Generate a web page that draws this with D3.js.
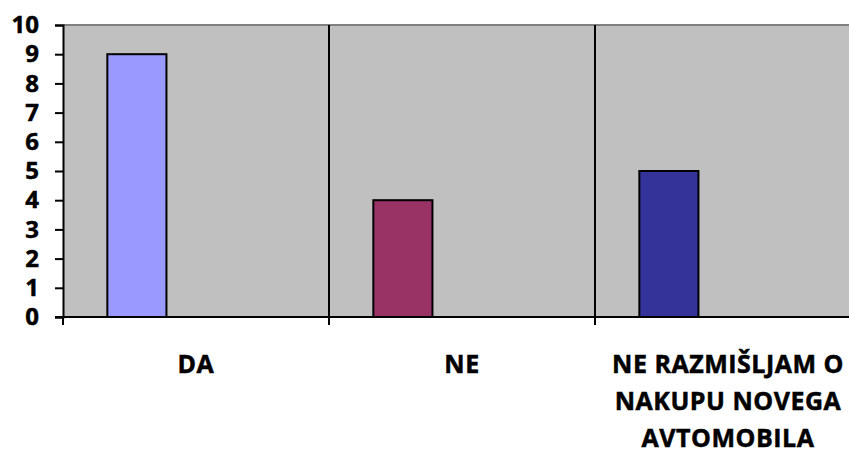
<!DOCTYPE html>
<html>
<head>
<meta charset="utf-8">
<script src="https://cdn.jsdelivr.net/npm/d3@7"></script>
<style>
  html, body { margin: 0; padding: 0; background: #ffffff; }
  svg { display: block; }
  text { font-family: "Open Sans", Lato, sans-serif; font-weight: bold; fill: #000; stroke: #000; stroke-width: 0.5px; }
</style>
</head>
<body>
<svg id="chart" width="849" height="450"></svg>
<script>
// Survey answers and counts
const categories = ["DA", "NE", "NE RAZMIŠLJAM O NAKUPU NOVEGA AVTOMOBILA"];
const values = [9, 4, 5];
const barColors = ["#9999FF", "#993366", "#333399"];
const yTicks = [0, 1, 2, 3, 4, 5, 6, 7, 8, 9, 10];

const svg = d3.select("#chart");

const plot = { left: 63, top: 25, bottom: 317, catWidth: 266 };

const x = d3.scaleBand()
  .domain(categories)
  .range([plot.left, plot.left + plot.catWidth * categories.length])
  .paddingInner(0)
  .paddingOuter(0);

const y = d3.scaleLinear().domain([0, 10]).range([plot.bottom, plot.top]);

// Plot background
svg.append("rect")
  .attr("x", plot.left)
  .attr("y", plot.top)
  .attr("width", x.range()[1] - plot.left)
  .attr("height", plot.bottom - plot.top)
  .attr("fill", "#C0C0C0");

// Top border of the plot area
svg.append("line")
  .attr("x1", plot.left).attr("x2", x.range()[1])
  .attr("y1", plot.top).attr("y2", plot.top)
  .attr("stroke", "#808080").attr("stroke-width", 2);

// Category dividers
svg.selectAll("line.divider")
  .data(categories.slice(1))
  .join("line")
  .attr("class", "divider")
  .attr("x1", d => x(d)).attr("x2", d => x(d))
  .attr("y1", plot.top).attr("y2", plot.bottom)
  .attr("stroke", "#000").attr("stroke-width", 2);

// Bars: one slot of a three-slot cluster, gap width 150%
const slot = x.bandwidth() / 4.5;
svg.selectAll("rect.bar")
  .data(values)
  .join("rect")
  .attr("class", "bar")
  .attr("x", (d, i) => x(categories[i]) + slot * 0.75)
  .attr("width", slot)
  .attr("y", d => y(d))
  .attr("height", d => y(0) - y(d))
  .attr("fill", (d, i) => barColors[i])
  .attr("stroke", "#000")
  .attr("stroke-width", 2);

// Y axis
const yAxis = svg.append("g")
  .attr("transform", `translate(${plot.left},0)`)
  .call(d3.axisLeft(y).tickValues(yTicks).tickSize(8).tickPadding(16).tickFormat(d3.format("d")));
yAxis.select(".domain").attr("stroke", "#000").attr("stroke-width", 2);
yAxis.selectAll(".tick line").attr("stroke", "#000").attr("stroke-width", 2);
yAxis.selectAll(".tick text")
  .style("font-family", "'Open Sans', Lato, sans-serif")
  .style("font-weight", "bold")
  .style("font-size", "24px")
  .attr("fill", "#000");

// X axis baseline with ticks at category boundaries
const boundaries = categories.map(c => x(c)).concat([x.range()[1]]);
svg.append("line")
  .attr("x1", plot.left - 8).attr("x2", x.range()[1])
  .attr("y1", y(0)).attr("y2", y(0))
  .attr("stroke", "#000").attr("stroke-width", 2);
svg.selectAll("line.xtick")
  .data(boundaries)
  .join("line")
  .attr("class", "xtick")
  .attr("x1", d => d).attr("x2", d => d)
  .attr("y1", y(0)).attr("y2", y(0) + 8)
  .attr("stroke", "#000").attr("stroke-width", 2);

// Category labels, wrapped within the category width
const labels = svg.selectAll("text.cat")
  .data(categories)
  .join("text")
  .attr("class", "cat")
  .attr("text-anchor", "middle")
  .style("font-size", "25px")
  .style("letter-spacing", "0.5px")
  .attr("x", d => x(d) + x.bandwidth() / 2)
  .attr("y", 373);

const lineHeight = 37;
labels.each(function(d) {
  const t = d3.select(this);
  const words = d.split(" ");
  const lines = [];
  let current = [];
  const probe = t.append("tspan");
  words.forEach(w => {
    const trial = current.concat([w]).join(" ");
    probe.text(trial);
    if (probe.node().getComputedTextLength() > 250 && current.length) {
      lines.push(current.join(" "));
      current = [w];
    } else {
      current.push(w);
    }
  });
  lines.push(current.join(" "));
  probe.remove();
  lines.forEach((ln, i) => {
    t.append("tspan")
      .attr("x", x(d) + x.bandwidth() / 2)
      .attr("y", 373 + i * lineHeight)
      .text(ln);
  });
});
</script>
</body>
</html>
